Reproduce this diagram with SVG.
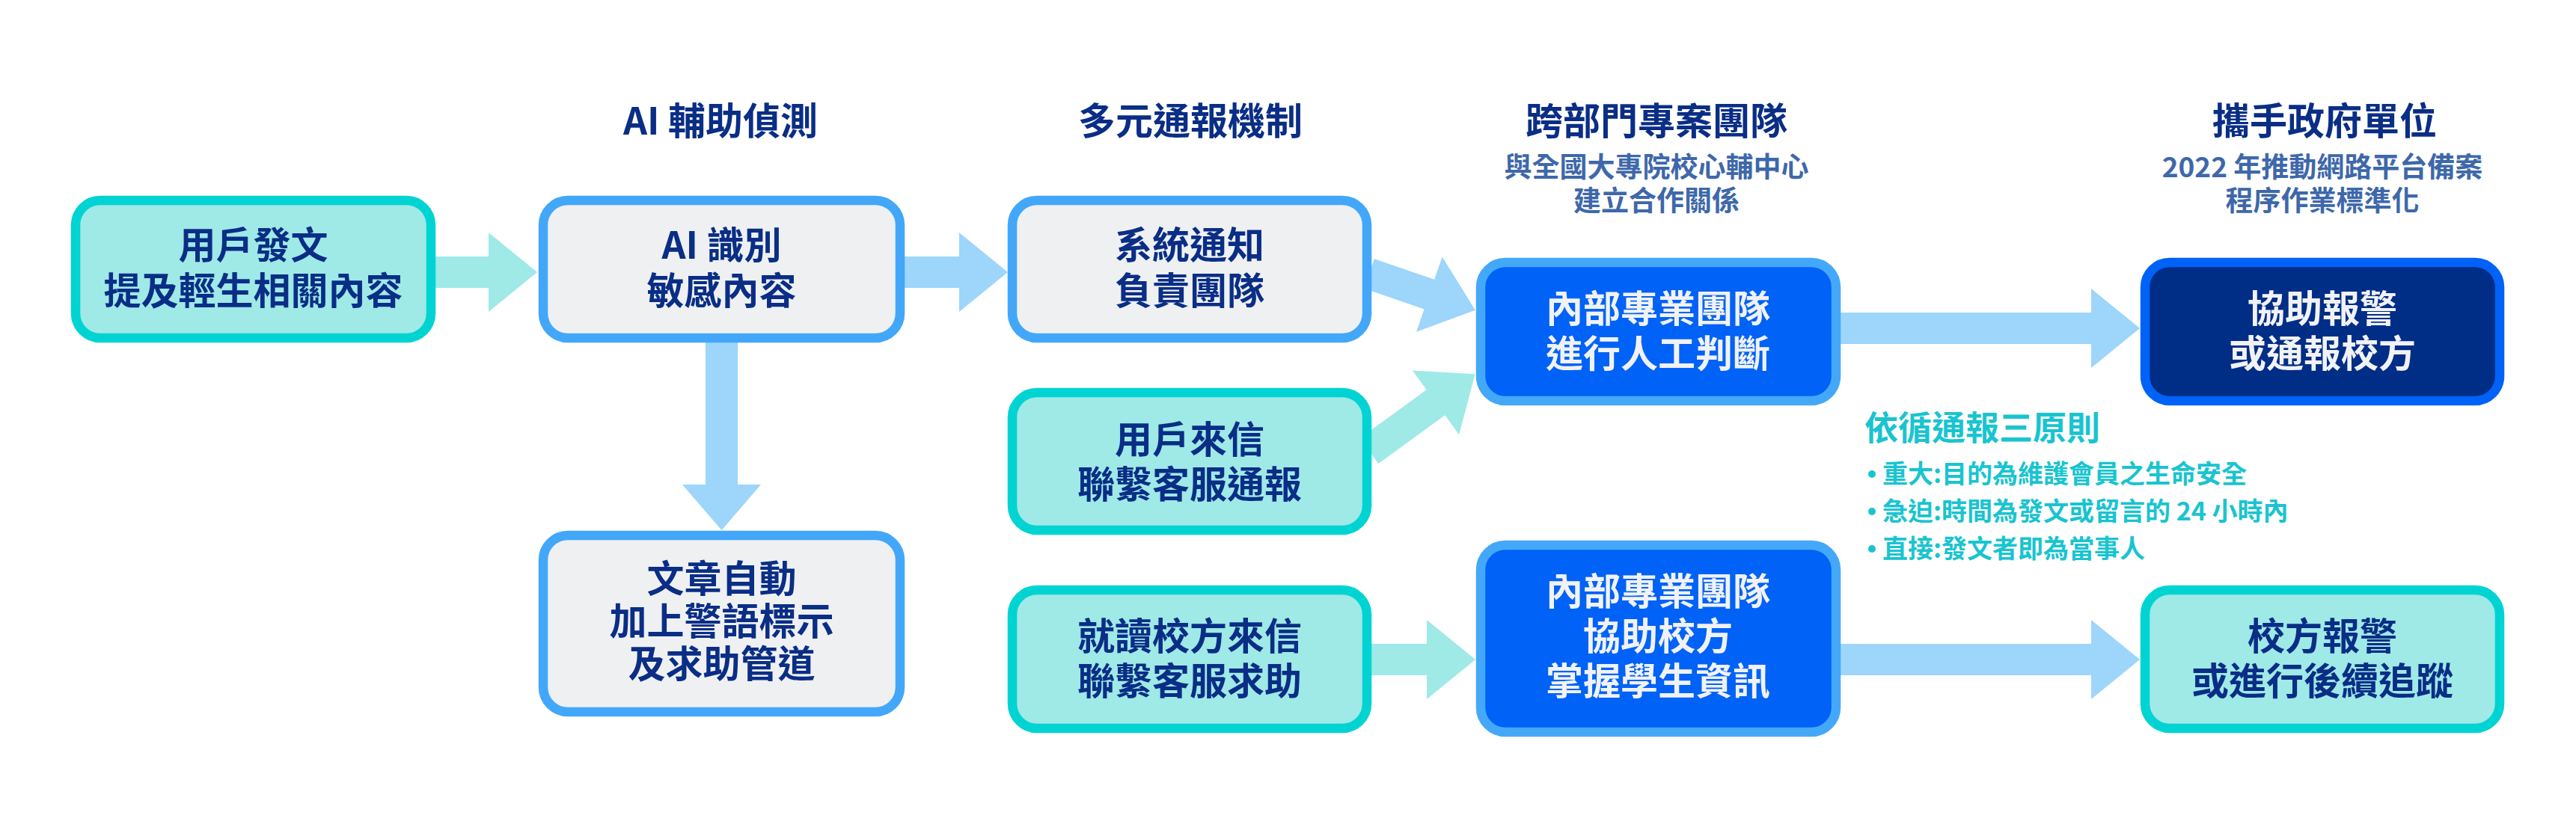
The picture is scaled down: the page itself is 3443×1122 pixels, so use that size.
<svg xmlns="http://www.w3.org/2000/svg" width="3443" height="1122" viewBox="0 0 3443 1122">
  <style>
    text { font-family: "Noto Sans CJK TC", "Noto Sans", sans-serif; font-weight: 700; }
    .title { font-size: 50px; fill: #0a2e86; text-anchor: middle; }
    .sub { font-size: 37px; fill: #3e68aa; text-anchor: middle; }
    .lbl { font-size: 50px; fill: #0a2e86; text-anchor: middle; }
    .lbl-w { font-size: 50px; fill: #f0f2f6; text-anchor: middle; }
    .rule-h { font-size: 45px; fill: #19c4d0; }
    .rule { font-size: 34px; fill: #19c4d0; }
    .dot { fill: #19c4d0; }
    .teal { fill: #9fe9e7; stroke: #00d4d2; stroke-width: 12.5; }
    .grey { fill: #eef0f2; stroke: #43a7f9; stroke-width: 12.5; }
    .blue { fill: #0062f6; stroke: #44a8f9; stroke-width: 12.5; }
    .navy { fill: #002d86; stroke: #0062f6; stroke-width: 12.5; }
    .arr-t { fill: #9fe9e7; }
    .arr-b { fill: #9dd5fb; }
  </style>

  <!-- column headings -->
  <g id="headings">
    <text class="title" x="963" y="180">AI 輔助偵測</text>
    <text class="title" x="1591" y="180">多元通報機制</text>
    <text class="title" x="2214" y="180">跨部門專案團隊</text>
    <text class="sub" x="2214" y="237">與全國大專院校心輔中心</text>
    <text class="sub" x="2214" y="282">建立合作關係</text>
    <text class="title" x="3107" y="180">攜手政府單位</text>
    <text class="sub" x="3104" y="237">2022 年推動網路平台備案</text>
    <text class="sub" x="3104" y="282">程序作業標準化</text>
  </g>

  <!-- block arrows: shaft 42 wide, head 106 wide and 65 long -->
  <g id="connectors">
    <!-- post -> AI detection -->
    <polygon class="arr-t" points="575,343 653,343 653,311 718,364 653,417 653,385 575,385"/>
    <!-- AI detection -> notify team -->
    <polygon class="arr-b" points="1200,343 1282,343 1282,311 1347,364 1282,417 1282,385 1200,385"/>
    <!-- AI detection -> warning label -->
    <polygon class="arr-b" points="943,450 943,648 912,648 964.5,709 1017,648 986,648 986,450"/>
    <!-- notify team -> internal team -->
    <polygon class="arr-b" transform="translate(1830,366) rotate(19)" points="0,-21 85,-21 85,-53 150,0 85,53 85,21 0,21"/>
    <!-- user mail -> internal team -->
    <polygon class="arr-t" transform="translate(1830,603) rotate(-36)" points="0,-21 110,-21 110,-53 175,0 110,53 110,21 0,21"/>
    <!-- school mail -> internal team (school) -->
    <polygon class="arr-t" points="1825,861 1907,861 1907,829 1972,882 1907,935 1907,903 1825,903"/>
    <!-- internal team -> report to police -->
    <polygon class="arr-b" points="2455,418 2795,418 2795,386 2860,439 2795,492 2795,460 2455,460"/>
    <!-- internal team (school) -> school follow-up -->
    <polygon class="arr-b" points="2455,861 2795,861 2795,829 2860,882 2795,935 2795,903 2455,903"/>
  </g>

  <g id="node-post">
    <rect class="teal" x="101" y="268" width="475" height="184" rx="33"/>
    <text class="lbl" x="338.5" y="346">用戶發文</text>
    <text class="lbl" x="338.5" y="407">提及輕生相關內容</text>
  </g>

  <g id="node-ai">
    <rect class="grey" x="726" y="268" width="477" height="184" rx="33"/>
    <text class="lbl" x="964.5" y="346">AI 識別</text>
    <text class="lbl" x="964.5" y="407">敏感內容</text>
  </g>

  <g id="node-warning">
    <rect class="grey" x="726" y="716" width="477" height="236" rx="33"/>
    <text class="lbl" x="964.5" y="792">文章自動</text>
    <text class="lbl" x="964.5" y="849">加上警語標示</text>
    <text class="lbl" x="964.5" y="906">及求助管道</text>
  </g>

  <g id="node-notify">
    <rect class="grey" x="1353" y="268" width="474" height="184" rx="33"/>
    <text class="lbl" x="1590" y="346">系統通知</text>
    <text class="lbl" x="1590" y="407">負責團隊</text>
  </g>

  <g id="node-user-mail">
    <rect class="teal" x="1353" y="525" width="474" height="184" rx="33"/>
    <text class="lbl" x="1590" y="606">用戶來信</text>
    <text class="lbl" x="1590" y="666">聯繫客服通報</text>
  </g>

  <g id="node-school-mail">
    <rect class="teal" x="1353" y="789" width="474" height="185" rx="33"/>
    <text class="lbl" x="1590" y="869">就讀校方來信</text>
    <text class="lbl" x="1590" y="929">聯繫客服求助</text>
  </g>

  <g id="node-team-judge">
    <rect class="blue" x="1979" y="351" width="475" height="185" rx="33"/>
    <text class="lbl-w" x="2216" y="431">內部專業團隊</text>
    <text class="lbl-w" x="2216" y="491">進行人工判斷</text>
  </g>

  <g id="node-team-school">
    <rect class="blue" x="1979" y="729" width="475" height="250" rx="33"/>
    <text class="lbl-w" x="2216" y="809">內部專業團隊</text>
    <text class="lbl-w" x="2216" y="869">協助校方</text>
    <text class="lbl-w" x="2216" y="929">掌握學生資訊</text>
  </g>

  <g id="node-police">
    <rect class="navy" x="2867" y="351" width="474" height="185" rx="33"/>
    <text class="lbl-w" x="3104" y="431">協助報警</text>
    <text class="lbl-w" x="3104" y="491">或通報校方</text>
  </g>

  <g id="node-school-follow">
    <rect class="teal" x="2867" y="789" width="474" height="185" rx="33"/>
    <text class="lbl" x="3104" y="869">校方報警</text>
    <text class="lbl" x="3104" y="929">或進行後續追蹤</text>
  </g>

  <!-- reporting principles -->
  <g id="principles">
    <text class="rule-h" x="2492" y="589">依循通報三原則</text>
    <circle class="dot" cx="2502" cy="634" r="5"/>
    <circle class="dot" cx="2502" cy="684" r="5"/>
    <circle class="dot" cx="2502" cy="734" r="5"/>
    <text class="rule" x="2516" y="646">重大:目的為維護會員之生命安全</text>
    <text class="rule" x="2516" y="696">急迫:時間為發文或留言的 24 小時內</text>
    <text class="rule" x="2516" y="746">直接:發文者即為當事人</text>
  </g>
</svg>
